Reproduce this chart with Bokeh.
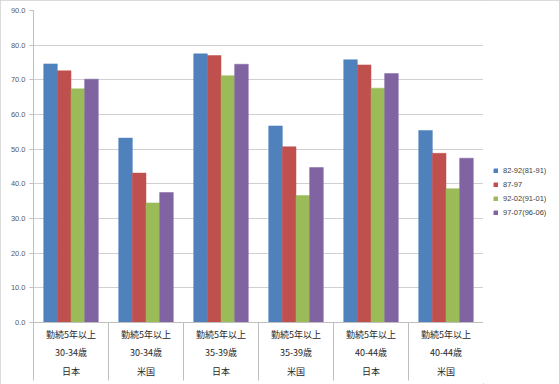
from bokeh.plotting import figure
from bokeh.layouts import row
from bokeh.models import (ColumnDataSource, Range1d, FixedTicker, Legend, LegendItem,
                          CustomJSTickFormatter, NumeralTickFormatter)
from bokeh.transform import dodge
from bokeh.embed import file_html
from bokeh.resources import INLINE

# ---- data ----
line1 = ["勤続5年以上"] * 6
line2 = ["30-34歳", "30-34歳", "35-39歳", "35-39歳", "40-44歳", "40-44歳"]
line3 = ["日本", "米国", "日本", "米国", "日本", "米国"]
series = ["82-92(81-91)", "87-97", "92-02(91-01)", "97-07(96-06)"]
s1 = [74.6, 53.2, 77.5, 56.7, 75.8, 55.4]
s2 = [72.6, 43.1, 77.0, 50.7, 74.3, 48.8]
s3 = [67.4, 34.5, 71.2, 36.6, 67.6, 38.6]
s4 = [70.2, 37.5, 74.5, 44.7, 71.8, 47.4]
colors = ["#4F81BD", "#C0504D", "#9BBB59", "#8064A2"]
y_ticks = [0, 10, 20, 30, 40, 50, 60, 70, 80, 90]

n = len(line2)
idx = list(range(n))
centers = [i + 0.5 for i in idx]
src = ColumnDataSource(dict(x=centers, s1=s1, s2=s2, s3=s3, s4=s4))
cat_labels = [a + "\n" + b + "\n" + c for a, b, c in zip(line1, line2, line3)]

p = figure(width=483, height=384, output_backend="svg", toolbar_location=None,
           x_range=Range1d(0, n), y_range=Range1d(0, 90),
           min_border_left=33, min_border_right=0, min_border_top=10, min_border_bottom=62)
p.outline_line_color = None
p.background_fill_color = "white"
p.border_fill_color = "white"

bw = 0.182
offs = [-1.5 * bw, -0.5 * bw, 0.5 * bw, 1.5 * bw]
cols = ["s1", "s2", "s3", "s4"]
for k, (col, c) in enumerate(zip(cols, colors)):
    p.vbar(x=dodge("x", offs[k], range=p.x_range), top=col, width=bw, source=src,
           fill_color=c, line_color=c, line_width=0.5)

# y axis
p.yaxis.ticker = FixedTicker(ticks=y_ticks)
p.yaxis.formatter = NumeralTickFormatter(format="0.0")
p.yaxis.major_label_text_font = "Liberation Sans"
p.yaxis.major_label_text_font_size = "7.5px"
p.yaxis.major_label_text_color = "#595959"
p.yaxis.axis_line_color = "#bfbfbf"
p.yaxis.major_tick_line_color = "#bfbfbf"
p.yaxis.major_tick_out = 4
p.yaxis.major_tick_in = 0
p.yaxis.minor_tick_line_color = None
p.yaxis.major_label_standoff = 4

p.xgrid.grid_line_color = None
p.ygrid.ticker = FixedTicker(ticks=y_ticks)
p.ygrid.grid_line_color = "#d0d0d0"
p.ygrid.grid_line_width = 1

# category axis; separators as minor ticks
ax = p.xaxis[0]
ax.ticker = FixedTicker(ticks=centers, minor_ticks=list(range(n + 1)))
ax.formatter = CustomJSTickFormatter(args=dict(labels=cat_labels),
                                     code="return labels[Math.floor(tick)];")
ax.major_tick_out = 0
ax.major_tick_in = 0
ax.major_tick_line_color = None
ax.minor_tick_in = 0
ax.minor_tick_out = 58
ax.minor_tick_line_color = "#bfbfbf"
ax.axis_line_color = "#bfbfbf"
ax.major_label_standoff = -53
ax.major_label_text_font = "Noto Sans CJK JP"
ax.major_label_text_font_size = "9px"
ax.major_label_text_color = "#262626"
ax.major_label_text_line_height = 1.45

# legend panel (separate narrow figure; its bars lie outside its visible range)
lf = figure(width=76, height=384, output_backend="svg", toolbar_location=None,
            x_range=Range1d(-20, -19), y_range=Range1d(0, 90),
            min_border=0, min_border_left=0, min_border_right=0,
            min_border_top=0, min_border_bottom=0)
lf.axis.visible = False
lf.grid.visible = False
lf.outline_line_color = None
lf.border_fill_color = "white"
items = []
for col, name, c in zip(cols, series, colors):
    r = lf.vbar(x="x", top=col, width=bw, source=src, fill_color=c, line_color=c)
    items.append(LegendItem(label=name, renderers=[r]))

legend = Legend(items=items, location=(10, 105), orientation="vertical")
legend.label_text_font = "Liberation Sans"
legend.label_text_font_size = "7.5px"
legend.label_text_color = "#404040"
legend.glyph_width = 5
legend.glyph_height = 5
legend.label_height = 10
legend.label_standoff = 5
legend.spacing = 4
legend.padding = 0
legend.margin = 0
legend.border_line_color = None
legend.background_fill_alpha = 0
lf.add_layout(legend, "center")

layout = row(p, lf, spacing=0)
layout.styles = {"outline": "1px solid #cfcfcf", "outline-offset": "-1px"}
open("out.html", "w").write(file_html(layout, INLINE))
